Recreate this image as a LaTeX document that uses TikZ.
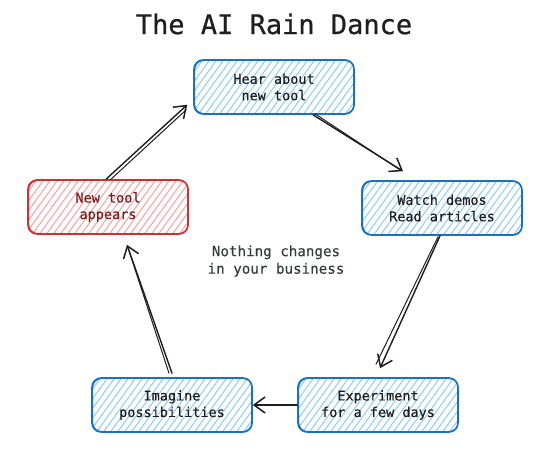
\documentclass[tikz,border=0pt]{standalone}
\usepackage{fontspec}
\setmonofont{DejaVu Sans Mono}
\newfontfamily\titlefont{DejaVu Sans Mono}[FakeBold=0.6]
\newfontfamily\cardfont{DejaVu Sans Mono}[FakeBold=0.3]
\usetikzlibrary{arrows.meta,calc}
\definecolor{bstroke}{HTML}{1971C2}
\definecolor{bfill}{HTML}{8CCBFF}
\definecolor{rstroke}{HTML}{D03030}
\definecolor{rfill}{HTML}{FF9E9E}
\definecolor{rtext}{HTML}{7A1C1C}
\definecolor{ink}{HTML}{1E1E1E}
\definecolor{gtext}{HTML}{343A40}
\tikzset{
  hatchfill/.style={path picture={
    \foreach \k in {0,...,34}
      \draw[#1,line width=1pt] ([xshift=\k*7pt-60pt,yshift=-2pt]path picture bounding box.south west) -- ++(45pt,62pt);
  }},
  card/.style n args={3}{rounded corners=9pt, draw=#1, line width=1.6pt,
    hatchfill=#2, minimum width=160pt, minimum height=54pt, align=center,
    text=#3, font=\cardfont\fontsize{13.5}{16.5}\selectfont},
  bluecard/.style={card={bstroke}{bfill}{ink}},
  redcard/.style={card={rstroke}{rfill}{rtext}},
  arr/.style={draw=ink, line width=1.4pt, line cap=round,
    -{Straight Barb[length=11pt,width=16pt,line width=1.5pt]}},
  arrtwin/.style={draw=ink, line width=1pt, line cap=round},
}
\begin{document}
\begin{tikzpicture}[x=1pt,y=-1pt]
\useasboundingbox (0,0) rectangle (537,454);
\node[font=\titlefont\fontsize{27}{31}\selectfont, text=ink] (title) at (274,24) {The AI Rain Dance};

\node[bluecard] (hear) at (274,87) {Hear about\\new tool};
\node[redcard] (newtool) at (108,207) {New tool\\appears};
\node[bluecard] (watch) at (442,208) {Watch demos\\Read articles};
\node[bluecard] (imagine) at (172,405) {Imagine\\possibilities};
\node[bluecard] (exp) at (378,405) {Experiment\\for a few days};
\node[text=gtext, align=center, font=\cardfont\fontsize{14.2}{17.5}\selectfont] (mid) at (276,261) {Nothing changes\\in your business};

% sketchy second outlines
\foreach \n/\c in {hear/bstroke,watch/bstroke,imagine/bstroke,exp/bstroke,newtool/rstroke}{
  \draw[\c, line width=1pt, rounded corners=9pt] ([shift={(1.5pt,1.2pt)}]\n.south west) rectangle ([shift={(-0.8pt,-1.2pt)}]\n.north east);
}

% connectors
\draw[arr] ([xshift=-2pt]newtool.north) -- ([xshift=-6pt,yshift=10pt]hear.south west);
\draw[arrtwin] ([xshift=3pt]newtool.north) -- ([xshift=-7pt,yshift=5pt]hear.south west);

\draw[arr] ([xshift=39pt]hear.south) -- ([xshift=-39pt,yshift=9pt]watch.north);
\draw[arrtwin] ([xshift=41pt,yshift=1pt]hear.south) -- ([xshift=-43pt,yshift=11pt]watch.north);

\draw[arr] ([xshift=-2pt]watch.south) -- ([xshift=2pt,yshift=9pt]exp.north);
\draw[arrtwin] ([xshift=-4pt,yshift=-1pt]watch.south) -- ([xshift=-2pt,yshift=13pt]exp.north);

\draw[arr] (exp.west) -- (imagine.east);

\draw[arr] ([yshift=4pt]imagine.north) -- ([xshift=19pt,yshift=-10pt]newtool.south);
\draw[arrtwin] ([xshift=-3pt,yshift=4pt]imagine.north) -- ([xshift=20pt,yshift=-13pt]newtool.south);
\end{tikzpicture}
\end{document}
